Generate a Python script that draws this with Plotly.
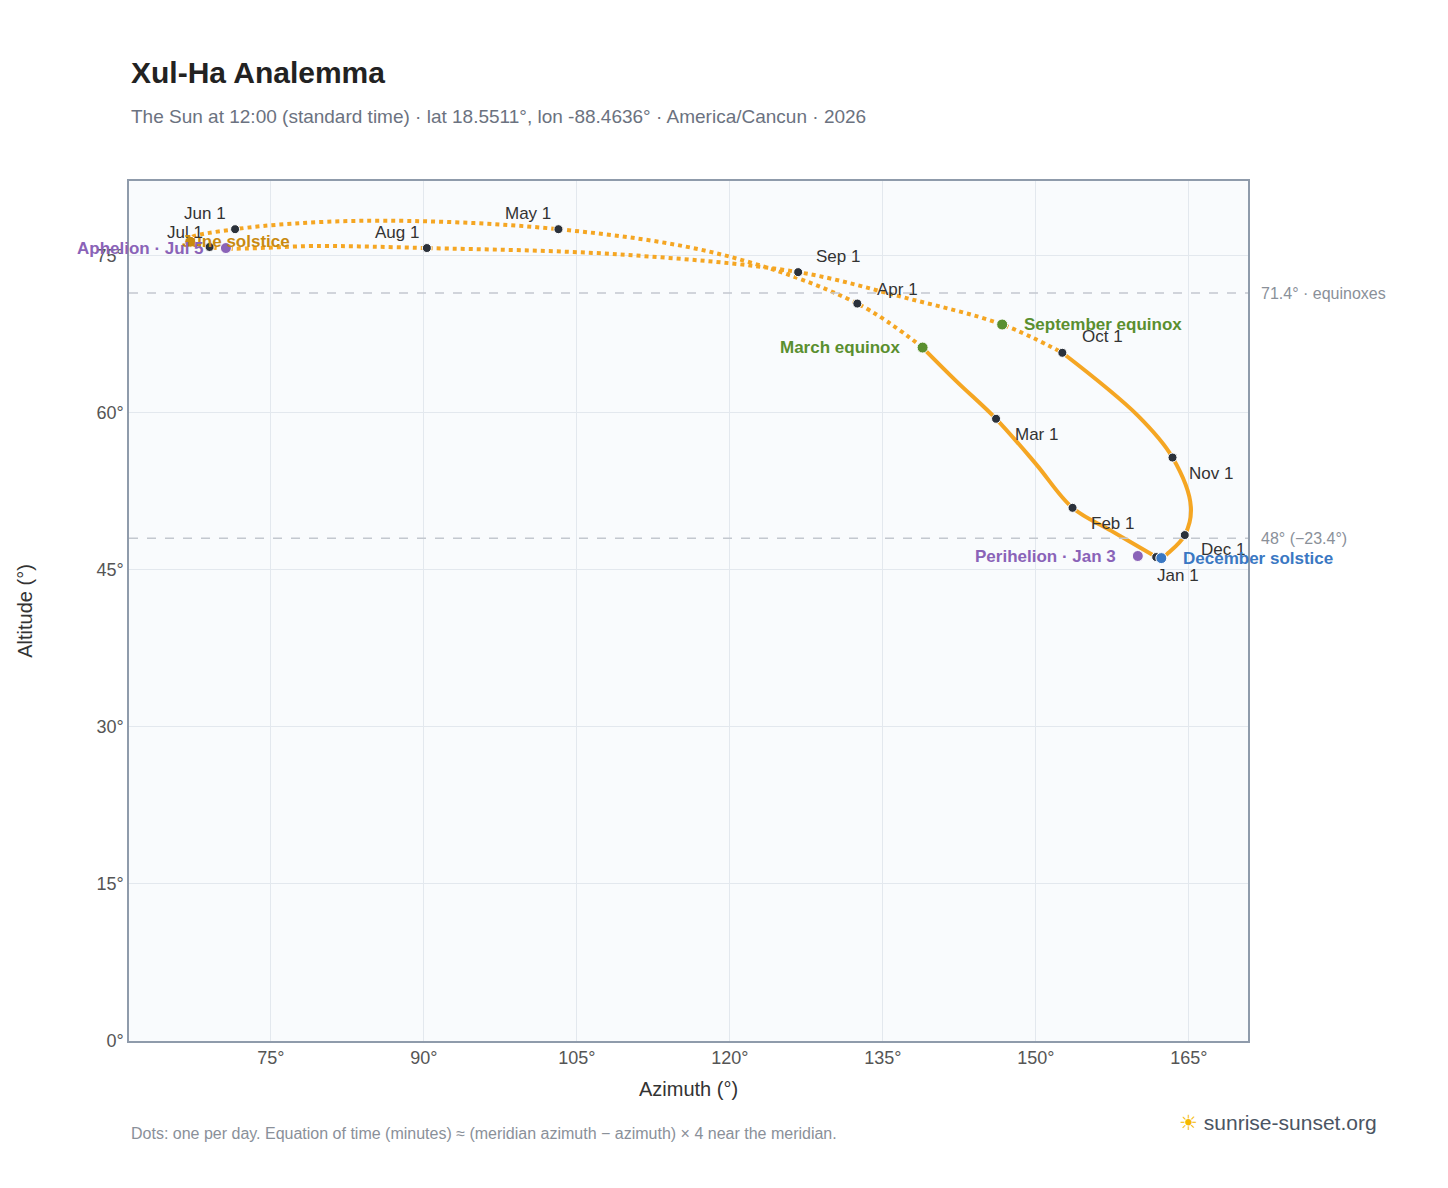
import plotly.graph_objects as go

# Path points (azimuth, altitude), in date order from Jan 1
path_az = [161.8, 157.4, 153.6, 150.0, 146.1, 142.2, 138.9, 132.5, 119.5, 103.2, 84.0, 71.5, 67.1, 69.0, 80.0, 90.3, 109.0, 126.7, 137.0, 146.7, 152.6, 160.0, 163.4, 165.2, 164.6, 163.0, 162.3, 161.8]
path_alt = [46.2, 48.7, 50.9, 55.1, 59.4, 63.0, 66.2, 70.4, 75.0, 77.5, 78.3, 77.5, 76.6, 75.8, 75.9, 75.7, 75.1, 73.4, 71.0, 68.4, 65.7, 59.7, 55.7, 51.0, 48.3, 46.6, 46.1, 46.2]
months = ["Jan 1", "Feb 1", "Mar 1", "Apr 1", "May 1", "Jun 1", "Jul 1", "Aug 1", "Sep 1", "Oct 1", "Nov 1", "Dec 1"]
month_az = [161.8, 153.6, 146.1, 132.5, 103.2, 71.5, 69.0, 90.3, 126.7, 152.6, 163.4, 164.6]
month_alt = [46.2, 50.9, 59.4, 70.4, 77.5, 77.5, 75.8, 75.7, 73.4, 65.7, 55.7, 48.3]
month_dx = [22, 40, 40, 40, -30, -30, -25, -30, 40, 40, 38, 38]
month_dy = [-18, -16, -16, 14, 16, 16, 14, 16, 16, 16, -16, -14]

events = ["March equinox", "June solstice", "September equinox", "December solstice", "Aphelion · Jul 5", "Perihelion · Jan 3"]
event_az = [138.9, 67.1, 146.7, 162.3, 70.6, 160.0]
event_alt = [66.2, 76.3, 68.4, 46.1, 75.7, 46.3]
event_col = ["#5a8f2f", "#c98a0f", "#5a8f2f", "#3a78c3", "#8a63b8", "#8a63b8"]
event_anchor = ["right", "left", "left", "left", "right", "right"]
event_dx = [-20, -10, 20, 20, -20, -20]

x_ticks = [75, 90, 105, 120, 135, 150, 165]
y_ticks = [0, 15, 30, 45, 60, 75]

ORANGE = "#f5a623"
fig = go.Figure()
fig.add_trace(go.Scatter(x=path_az[6:21], y=path_alt[6:21], mode="lines",
                         line=dict(color=ORANGE, width=4, dash="dot", shape="spline"), hoverinfo="skip"))
fig.add_trace(go.Scatter(x=path_az[20:] + path_az[:7], y=path_alt[20:] + path_alt[:7], mode="lines",
                         line=dict(color=ORANGE, width=4, shape="spline"), hoverinfo="skip"))
fig.add_trace(go.Scatter(x=month_az, y=month_alt, mode="markers",
                         marker=dict(color="#2b313b", size=9, line=dict(color="white", width=1))))
fig.add_trace(go.Scatter(x=event_az, y=event_alt, mode="markers",
                         marker=dict(color=event_col, size=11, line=dict(color="white", width=1))))

ann = []
for m, x, y, dx, dy in zip(months, month_az, month_alt, month_dx, month_dy):
    ann.append(dict(x=x, y=y, text=m, showarrow=False, xshift=dx, yshift=dy,
                    font=dict(size=17, color="#333")))
for e, x, y, c, a, dx in zip(events, event_az, event_alt, event_col, event_anchor, event_dx):
    ann.append(dict(x=x, y=y, text="<b>" + e + "</b>", showarrow=False, xanchor=a, xshift=dx,
                    font=dict(size=17, color=c)))
for yv, t in [(71.4, "71.4° · equinoxes"), (48, "48° (−23.4°)")]:
    fig.add_hline(y=yv, line=dict(color="#c3c8cf", width=1.5, dash="dash"))
    ann.append(dict(xref="paper", x=1.01, y=yv, text=t, showarrow=False, xanchor="left",
                    font=dict(size=16, color="#8a9099")))
ann += [
    dict(xref="paper", yref="paper", x=0, y=1.148, xanchor="left", text="<b>Xul-Ha Analemma</b>",
         showarrow=False, font=dict(size=30, color="#222")),
    dict(xref="paper", yref="paper", x=0, y=1.09, xanchor="left",
         text="The Sun at 12:00 (standard time) · lat 18.5511°, lon -88.4636° · America/Cancun · 2026",
         showarrow=False, font=dict(size=19, color="#6b7280")),
    dict(xref="paper", yref="paper", x=0, y=-0.12, xanchor="left",
         text="Dots: one per day. Equation of time (minutes) ≈ (meridian azimuth − azimuth) × 4 near the meridian.",
         showarrow=False, font=dict(size=16, color="#8a9099")),
    dict(xref="paper", yref="paper", x=1.117, y=-0.11, xanchor="right",
         text="<span style='color:#f5b800'>☀</span> sunrise-sunset.org",
         showarrow=False, font=dict(size=21, color="#4b5563")),
]
fig.update_layout(
    width=1448, height=1188, showlegend=False, paper_bgcolor="white", plot_bgcolor="#f9fbfd",
    margin=dict(l=121, r=208, t=173, b=155, autoexpand=False),
    font=dict(family="Liberation Sans, Arial", color="#555"),
    annotations=ann,
    xaxis=dict(range=[61.1, 170.8], tickvals=x_ticks, ticktext=[f"{v}°" for v in x_ticks],
               gridcolor="#e3e8ee", zeroline=False, showline=True, linecolor="#8f9bab", mirror=True,
               linewidth=1.5, tickfont=dict(size=18, color="#555"),
               title=dict(text="Azimuth (°)", font=dict(size=20, color="#333"))),
    yaxis=dict(range=[0, 82.1], tickvals=y_ticks, ticktext=[f"{v}°" for v in y_ticks],
               gridcolor="#e3e8ee", zeroline=False, showline=True, linecolor="#8f9bab", mirror=True,
               linewidth=1.5, tickfont=dict(size=18, color="#555"),
               title=dict(text="Altitude (°)", font=dict(size=20, color="#333"), standoff=58)),
)
fig.write_html("out.html")
